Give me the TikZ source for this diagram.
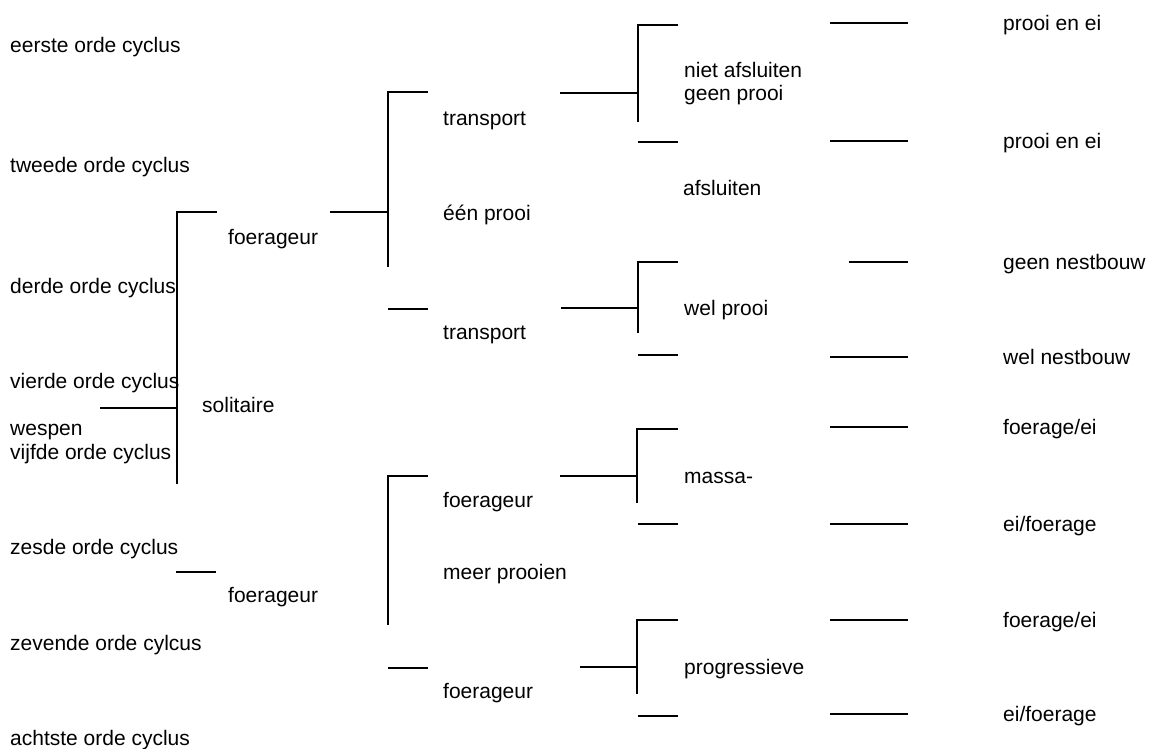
\documentclass[tikz,border=0pt]{standalone}
\usepackage{fontspec}
\setmainfont{Liberation Sans}
\usetikzlibrary{positioning}

\tikzset{
    label/.style={anchor=west, inner sep=0pt, text height=19pt, text depth=4.5pt,
        font=\fontsize{21}{22.5}\selectfont, align=left},
    tak/.style={line width=1.6pt, line cap=rect},
}

\begin{document}
\begin{tikzpicture}[x=1pt, y=-1pt]
        \useasboundingbox (0,0) rectangle (1157,749);

        % cycli
        \node[label] (eerste) at (10,45) {eerste orde cyclus};
        \node[label] (tweede) at (10,165) {tweede orde cyclus};
        \node[label] (derde) at (10,286) {derde orde cyclus};
        \node[label] (vierde) at (10,381) {vierde orde cyclus};
        \node[label] (wespen) at (10,428) {wespen};
        \node[label] (vijfde) at (10,452) {vijfde orde cyclus};
        \node[label] (zesde) at (10,547) {zesde orde cyclus};
        \node[label] (zevende) at (10,643) {zevende orde cylcus};
        \node[label] (achtste) at (10,738) {achtste orde cyclus};

        % eerste splitsing
        \node[label] (solitaire) at (202,405) {solitaire};
        \node[label] (foerageur1) at (228,237) {foerageur};
        \node[label] (foerageur2) at (228,595) {foerageur};
        \draw[tak] (101,408) -- (177,408);
        \draw[tak] (216,212) -- (177,212) -- (177,483);
        \draw[tak] (177,572) -- (215,572);

        % een prooi / meer prooien
        \node[label] (transport1) at (443,118) {transport};
        \node[label] (eenprooi) at (443,213) {één prooi};
        \node[label] (transport2) at (443,332) {transport};
        \draw[tak] (331,212) -- (388,212);
        \draw[tak] (427,92) -- (388,92) -- (388,266);
        \draw[tak] (389,309) -- (427,309);

        \node[label] (foerageur3) at (443,500) {foerageur};
        \node[label] (meerprooien) at (443,572) {meer prooien};
        \node[label] (foerageur4) at (443,691) {foerageur};
        \draw[tak] (427,476) -- (388,476) -- (388,624);
        \draw[tak] (389,668) -- (427,668);

        % derde splitsing
        \node[label] (nietafsluiten) at (684,93) {niet afsluiten\\geen prooi};
        \node[label] (afsluiten) at (683,188) {afsluiten};
        \draw[tak] (561,93) -- (638,93);
        \draw[tak] (677,25) -- (638,25) -- (638,121);
        \draw[tak] (639,142) -- (677,142);

        \node[label] (welprooi) at (684,308) {wel prooi};
        \draw[tak] (562,308) -- (638,308);
        \draw[tak] (677,262) -- (638,262) -- (638,332);
        \draw[tak] (639,355) -- (677,355);

        \node[label] (massa) at (684,476) {massa-};
        \draw[tak] (561,476) -- (637,476);
        \draw[tak] (677,429) -- (637,429) -- (637,502);
        \draw[tak] (639,524) -- (677,524);

        \node[label] (progressieve) at (684,667) {progressieve};
        \draw[tak] (581,667) -- (637,667);
        \draw[tak] (677,620) -- (637,620) -- (637,693);
        \draw[tak] (639,716) -- (677,716);

        % uitkomsten
        \node[label] (uit1) at (1003,23) {prooi en ei};
        \node[label] (uit2) at (1003,141) {prooi en ei};
        \node[label] (uit3) at (1003,262) {geen nestbouw};
        \node[label] (uit4) at (1003,357) {wel nestbouw};
        \node[label] (uit5) at (1003,427) {foerage/ei};
        \node[label] (uit6) at (1003,524) {ei/foerage};
        \node[label] (uit7) at (1003,620) {foerage/ei};
        \node[label] (uit8) at (1003,714) {ei/foerage};
        \draw[tak] (831,23) -- (907,23);
        \draw[tak] (831,141) -- (907,141);
        \draw[tak] (850,262) -- (907,262);
        \draw[tak] (831,357) -- (907,357);
        \draw[tak] (831,427) -- (907,427);
        \draw[tak] (831,524) -- (907,524);
        \draw[tak] (831,620) -- (907,620);
        \draw[tak] (831,714) -- (907,714);

\end{tikzpicture}
\end{document}
